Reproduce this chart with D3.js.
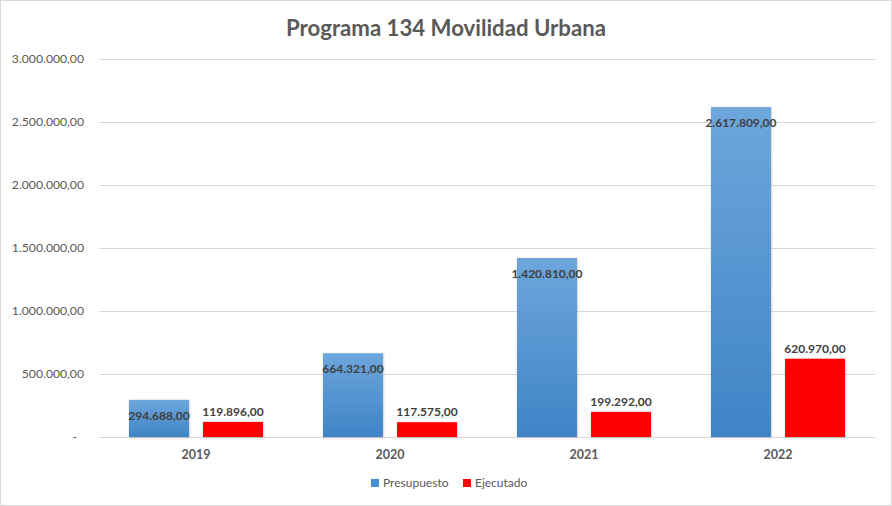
<!DOCTYPE html>
<html>
<head>
<meta charset="utf-8">
<script src="https://cdn.jsdelivr.net/npm/d3@7"></script>
<style>
  html, body { margin: 0; padding: 0; background: #fff; }
  svg text { font-family: Lato, "Open Sans", sans-serif; }
</style>
</head>
<body>
<div id="chart"></div>
<script>
"use strict";

const years = ["2019", "2020", "2021", "2022"];
const presupuesto = [294688, 664321, 1420810, 2617809];
const ejecutado = [119896, 117575, 199292, 620970];
const series_names = ["Presupuesto", "Ejecutado"];
const y_ticks = [0, 500000, 1000000, 1500000, 2000000, 2500000, 3000000];

const W = 892, H = 506;
const margin = {top: 59, right: 17, bottom: 69, left: 99};

const locale = d3.formatLocale({decimal: ",", thousands: ".", grouping: [3], currency: ["", ""]});
const fmt = locale.format(",.2f");

const svg = d3.select("#chart").append("svg")
    .attr("width", W)
    .attr("height", H);

// chart border
svg.append("rect")
    .attr("x", 0.5).attr("y", 0.5)
    .attr("width", W - 1).attr("height", H - 1)
    .attr("fill", "#fff")
    .attr("stroke", "#d9d9d9");

const defs = svg.append("defs");
const grad = defs.append("linearGradient")
    .attr("id", "blueGrad")
    .attr("x1", "0%").attr("y1", "0%")
    .attr("x2", "0%").attr("y2", "100%");
grad.append("stop").attr("offset", "0%").attr("stop-color", "#6ea6dc");
grad.append("stop").attr("offset", "100%").attr("stop-color", "#3f84c6");

const shadow = defs.append("filter").attr("id", "shadow")
    .attr("x", "-20%").attr("y", "-20%").attr("width", "140%").attr("height", "140%");
shadow.append("feDropShadow")
    .attr("dx", 0.5).attr("dy", 0.5).attr("stdDeviation", 1)
    .attr("flood-color", "#000").attr("flood-opacity", 0.25);

const x = d3.scaleBand()
    .domain(years)
    .range([margin.left, W - margin.right])
    .paddingInner(0)
    .paddingOuter(0);

const x1 = d3.scaleBand()
    .domain(series_names)
    .range([30, x.bandwidth() - 30])
    .paddingInner(0.19);

const y = d3.scaleLinear()
    .domain([0, 3000000])
    .range([H - margin.bottom, margin.top]);

// grid lines
svg.append("g")
    .selectAll("line")
    .data(y_ticks)
    .join("line")
    .attr("x1", margin.left)
    .attr("x2", W - margin.right)
    .attr("y1", (d) => Math.round(y(d)) + 0.5)
    .attr("y2", (d) => Math.round(y(d)) + 0.5)
    .attr("stroke", "#d9d9d9")
    .attr("stroke-width", 1);

// y axis labels
svg.append("g")
    .selectAll("text")
    .data(y_ticks)
    .join("text")
    .attr("x", (d) => d === 0 ? 77 : 84)
    .attr("y", (d) => y(d))
    .attr("dy", "0.35em")
    .attr("text-anchor", "end")
    .attr("font-size", 12.2)
    .attr("fill", "#595959")
    .text((d) => d === 0 ? "-" : fmt(d));

// x axis labels
svg.append("g")
    .selectAll("text")
    .data(years)
    .join("text")
    .attr("x", (d) => x(d) + x.bandwidth() / 2)
    .attr("y", 459)
    .attr("text-anchor", "middle")
    .attr("font-size", 12.5)
    .attr("font-weight", "bold")
    .attr("fill", "#595959")
    .text((d) => d);

const rows = years.map((yr, i) => ({year: yr, Presupuesto: presupuesto[i], Ejecutado: ejecutado[i]}));

const groups = svg.append("g")
    .selectAll("g")
    .data(rows)
    .join("g")
    .attr("transform", (d) => "translate(" + x(d.year) + ",0)");

groups.selectAll("rect")
    .data((d) => series_names.map((s) => ({key: s, value: d[s]})))
    .join("rect")
    .attr("x", (d) => x1(d.key))
    .attr("y", (d) => y(d.value))
    .attr("width", x1.bandwidth())
    .attr("height", (d) => y(0) - y(d.value))
    .attr("fill", (d) => d.key === "Presupuesto" ? "url(#blueGrad)" : "#ff0000")
    .attr("filter", "url(#shadow)");

// data labels
groups.selectAll("text")
    .data((d) => series_names.map((s) => ({key: s, value: d[s]})))
    .join("text")
    .attr("x", (d) => x1(d.key) + x1.bandwidth() / 2)
    .attr("y", (d) => d.key === "Presupuesto" ? y(d.value) + 20 : y(d.value) - 6)
    .attr("text-anchor", "middle")
    .attr("font-size", 12)
    .attr("font-weight", "bold")
    .attr("fill", "#404040")
    .text((d) => fmt(d.value));

// title
svg.append("text")
    .attr("x", W / 2)
    .attr("y", 36)
    .attr("text-anchor", "middle")
    .attr("font-size", 22.2)
    .attr("font-weight", "bold")
    .attr("fill", "#595959")
    .text("Programa 134 Movilidad Urbana");

// legend
const legend_x = [371, 463];
const leg = svg.append("g")
    .selectAll("g")
    .data(series_names)
    .join("g")
    .attr("transform", (d, i) => "translate(" + legend_x[i] + ",483)");

leg.append("rect")
    .attr("x", 0).attr("y", -4)
    .attr("width", 8).attr("height", 8)
    .attr("fill", (d) => d === "Presupuesto" ? "#4a8fd2" : "#ff0000");

leg.append("text")
    .attr("x", 12)
    .attr("dy", "0.35em")
    .attr("font-size", 12)
    .attr("fill", "#595959")
    .text((d) => d);
</script>
</body>
</html>
